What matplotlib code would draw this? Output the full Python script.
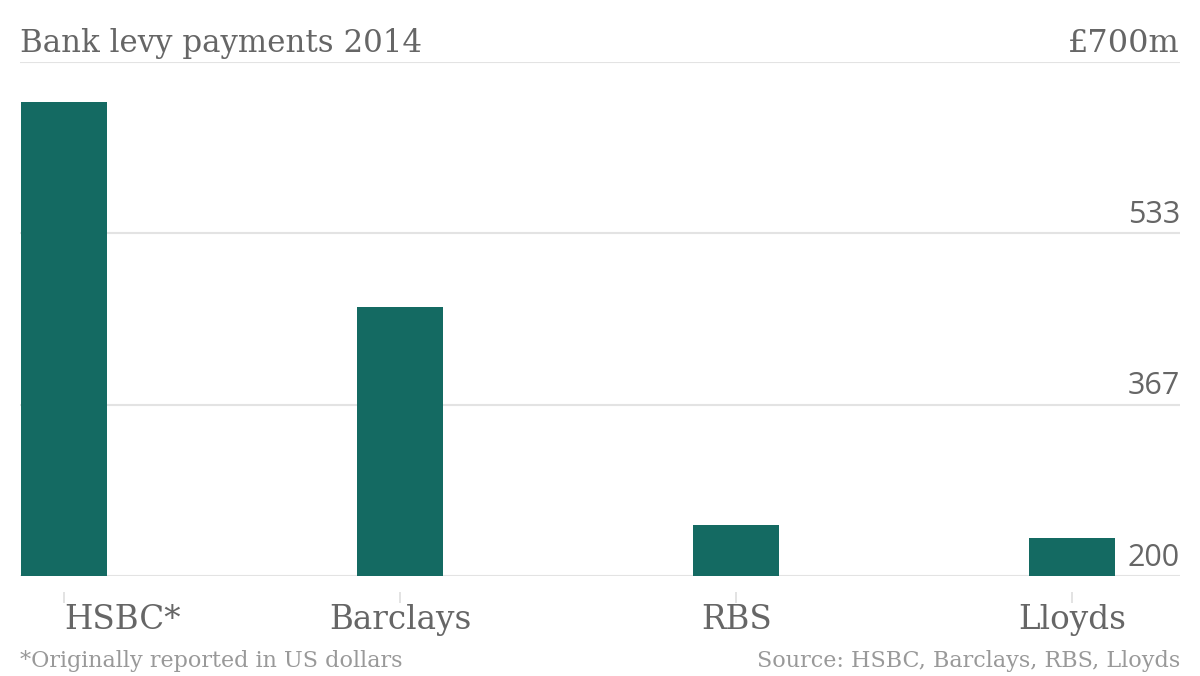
import matplotlib
matplotlib.use("Agg")
import matplotlib.pyplot as plt
import matplotlib.transforms as mtransforms

# data
banks = ["HSBC*", "Barclays", "RBS", "Lloyds"]
levy = [661, 462, 250, 237]          # £m, 2014
yticks = [200, 366.67, 533.33, 700]
ytick_labels = ["200", "367", "533", "£700m"]

TEAL = "#146a62"
GREY = "#666666"
LIGHT = "#999999"
GRID = "#e3e3e3"
SERIF = "DejaVu Serif"
SANS = "Open Sans"

fig = plt.figure(figsize=(12, 6.76), dpi=100)
ax = fig.add_axes([20/1200, 100/676, 1160/1200, 514/676])

x = list(range(len(banks)))
ax.bar(x, [v - 200 for v in levy], bottom=200, width=0.256, color=TEAL, zorder=3)
ax.set_xlim(-0.1324, 3.32)
ax.set_ylim(200, 700)

for s in ["top", "left", "right"]:
    ax.spines[s].set_visible(False)
ax.spines["bottom"].set_position(("outward", 16 * 0.72))   # 16 px below baseline
ax.spines["bottom"].set_visible(False)

ax.set_yticks([])
for yv in yticks:
    ax.axhline(yv, color=GRID, lw=1.5, zorder=1)

# value labels sit right-aligned just above each gridline
blend = mtransforms.blended_transform_factory(ax.transAxes, ax.transData)
above = mtransforms.offset_copy(blend, fig=fig, x=0, y=10.5, units="dots")
for yv, lab in zip(yticks, ytick_labels):
    if lab.startswith("£"):
        ax.text(1.0, yv, lab, transform=above, ha="right", va="baseline",
                fontsize=23, color=GREY, family=SERIF)
    else:
        ax.text(1.0, yv, lab, transform=above, ha="right", va="baseline",
                fontsize=22, color=GREY, family=SANS)

ax.set_xticks(x)
ax.set_xticklabels(banks, family=SERIF, fontsize=23.5, color=GREY)
ax.tick_params(axis="x", length=11 * 0.72, width=1.4, color=GRID, pad=1)
ax.get_xticklabels()[0].set_ha("left")

fig.text(20/1200, 1 - 52/676, "Bank levy payments 2014", ha="left", va="baseline",
         fontsize=22.2, color=GREY, family=SERIF)
fig.text(20/1200, 1 - 667/676, "*Originally reported in US dollars", ha="left", va="baseline",
         fontsize=16, color=LIGHT, family=SERIF)
fig.text(1180/1200, 1 - 667/676, "Source: HSBC, Barclays, RBS, Lloyds", ha="right", va="baseline",
         fontsize=16, color=LIGHT, family=SERIF)

fig.savefig("out.png", dpi=100, facecolor="white")
